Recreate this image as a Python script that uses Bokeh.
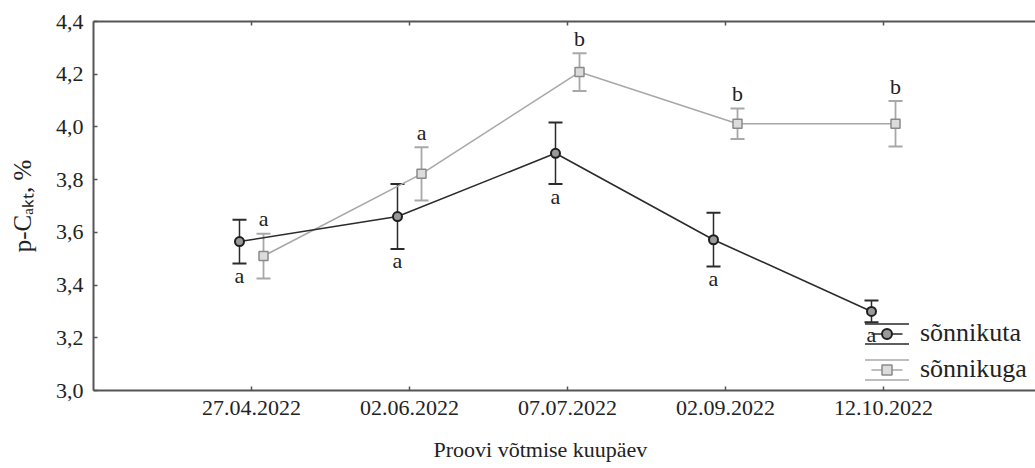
import numpy as np
from bokeh.plotting import figure
from bokeh.models import (ColumnDataSource, Whisker, TeeHead, Title, Legend, LegendItem,
                          LinearAxis, FixedTicker, CustomJSTickFormatter, Range1d,
                          CustomLabelingPolicy)
from bokeh.core.properties import value
from bokeh.embed import file_html
from bokeh.resources import INLINE

# sampling dates and the two treatments
dates = ["27.04.2022", "02.06.2022", "07.07.2022", "02.09.2022", "12.10.2022"]
series_names = ["sõnnikuta", "sõnnikuga"]

# p-C_akt (%) means, error half-widths and significance letters
mean_without = [3.565, 3.66, 3.90, 3.572, 3.30]
err_without = [0.083, 0.123, 0.117, 0.102, 0.041]
letters_without = ["a", "a", "a", "a", "a"]

mean_with = [3.51, 3.822, 4.208, 4.012, 4.012]
err_with = [0.085, 0.101, 0.072, 0.058, 0.086]
letters_with = ["a", "a", "b", "b", "b"]

y_ticks = [3.0, 3.2, 3.4, 3.6, 3.8, 4.0, 4.2, 4.4]

x_title = "Proovi võtmise kuupäev"
y_title = "p-Cₐₖₜ, %"

SERIF = "Liberation Serif"
AXIS_COL = "#555555"
TEXT_COL = "#222222"
DARK = "#2b2b2b"
LIGHT = "#a8a8a8"

idx = np.arange(len(dates))
shift = 0.076  # side-by-side dodge of the two series


def make_source(means, errs, letters, dx):
    m = np.array(means)
    e = np.array(errs)
    return ColumnDataSource(dict(x=idx + dx, y=m, upper=m + e, lower=m - e, label=letters))


src_wo = make_source(mean_without, err_without, letters_without, -shift)
src_wi = make_source(mean_with, err_with, letters_with, shift)

p = figure(width=1035, height=468,
           x_range=Range1d(-1, 4.962), y_range=Range1d(y_ticks[0], y_ticks[-1]),
           output_backend="svg", toolbar_location=None,
           x_axis_location=None, y_axis_location=None,
           min_border_left=93, min_border_right=0, min_border_top=21, min_border_bottom=78)
p.outline_line_color = None
p.xgrid.visible = False
p.ygrid.visible = False
p.background_fill_color = "white"
p.border_fill_color = "white"


def style_axis(ax):
    ax.axis_line_color = AXIS_COL
    ax.axis_line_width = 2
    ax.major_tick_line_color = AXIS_COL
    ax.major_tick_line_width = 1.5
    ax.major_tick_in = 4
    ax.major_tick_out = 0
    ax.minor_tick_line_color = None
    ax.major_label_text_font = SERIF
    ax.major_label_text_font_size = "22px"
    ax.major_label_text_color = TEXT_COL
    ax.major_label_standoff = 10


x_ticker = FixedTicker(ticks=list(idx))
date_labels = {int(i): d for i, d in zip(idx, dates)}

ax_left = LinearAxis(ticker=FixedTicker(ticks=y_ticks),
                     formatter=CustomJSTickFormatter(code="return tick.toFixed(1).replace('.', ',')"))
style_axis(ax_left)
ax_left.axis_label = y_title
ax_left.axis_label_text_font = SERIF
ax_left.axis_label_text_font_size = "25px"
ax_left.axis_label_text_font_style = "normal"
ax_left.axis_label_text_color = TEXT_COL
ax_left.axis_label_standoff = 17
p.add_layout(ax_left, "left")

ax_bottom = LinearAxis(ticker=x_ticker, major_label_overrides=date_labels)
style_axis(ax_bottom)
p.add_layout(ax_bottom, "below")

# top frame line with inward ticks, no labels
ax_top = LinearAxis(ticker=x_ticker,
                    major_label_policy=CustomLabelingPolicy(code="return new Set()"))
style_axis(ax_top)
ax_top.major_label_text_font_size = "1px"
ax_top.major_label_standoff = 0
p.add_layout(ax_top, "above")

# x title, placed left of the frame centre, with room above it
p.add_layout(Title(text=x_title, align="left", offset=340, standoff=0,
                   padding=dict(left=0, right=0, top=17, bottom=0),
                   text_font=SERIF, text_font_size="22px", text_font_style="normal",
                   text_color=TEXT_COL), "below")

# connecting lines
line_wi = p.line("x", "y", source=src_wi, line_color=LIGHT, line_width=1.6)
line_wo = p.line("x", "y", source=src_wo, line_color=DARK, line_width=1.6)

# error bars
for src, col, w in ((src_wi, LIGHT, 1.8), (src_wo, DARK, 1.5)):
    p.add_layout(Whisker(base="x", upper="upper", lower="lower", source=src,
                         line_color=col, line_width=w,
                         upper_head=TeeHead(size=14, line_color=col, line_width=2),
                         lower_head=TeeHead(size=14, line_color=col, line_width=2)))

# markers
scat_wi = p.scatter("x", "y", source=src_wi, marker="square", size=9,
                    fill_color="#dcdcdc", line_color="#8a8a8a", line_width=1.5)
scat_wo = p.scatter("x", "y", source=src_wo, marker="circle", size=9,
                    fill_color="#9a9a9a", line_color="#1e1e1e", line_width=2)

# significance letters
p.text(x="x", y="upper", text="label", source=src_wi, text_font=value(SERIF),
       text_font_size="22px", text_color=TEXT_COL, text_align="center",
       text_baseline="alphabetic", y_offset=-15)
p.text(x="x", y="lower", text="label", source=src_wo, text_font=value(SERIF),
       text_font_size="22px", text_color=TEXT_COL, text_align="center",
       text_baseline="alphabetic", y_offset=12)

# legend-only glyphs (NaN placeholders, never shown in the plot area):
# error-bar caps and a short connecting stroke
nan1 = [np.nan]
cap_wo = p.rect(x=nan1, y=nan1, width=0.1, height=0.1, fill_color=None,
                line_color=DARK, line_width=1.5, line_dash="44 20")
cap_wi = p.rect(x=nan1, y=nan1, width=0.1, height=0.1, fill_color=None,
                line_color=LIGHT, line_width=1.5, line_dash="44 20")
stroke_wo = p.line(x=nan1, y=nan1, line_color=DARK, line_width=1.5, line_dash="0 12 31 100")
stroke_wi = p.line(x=nan1, y=nan1, line_color=LIGHT, line_width=1.5, line_dash="0 12 31 100")

legend = Legend(items=[LegendItem(label=series_names[0], renderers=[cap_wo, stroke_wo, scat_wo]),
                       LegendItem(label=series_names[1], renderers=[cap_wi, stroke_wi, scat_wi])],
                location=(766, 6), orientation="vertical",
                glyph_width=55, glyph_height=25, label_height=25, label_standoff=6,
                spacing=6, padding=0, margin=0,
                border_line_color=None, background_fill_alpha=0,
                label_text_font=SERIF, label_text_font_size="26px", label_text_color=TEXT_COL)
p.add_layout(legend)

open("out.html", "w").write(file_html(p, INLINE))
